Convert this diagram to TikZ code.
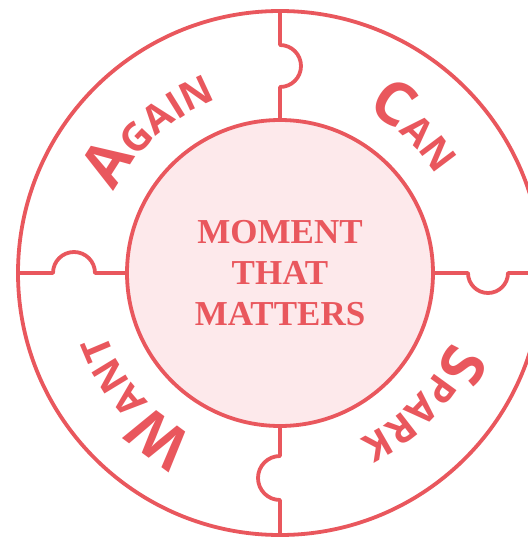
\documentclass[tikz,border=0pt]{standalone}
\usepackage{fontspec}
\setmainfont{Liberation Serif}
\newfontfamily\ringfont{Open Sans}
\usepackage{xcolor}
\usetikzlibrary{calc,decorations.text}
\definecolor{coral}{HTML}{E9575D}
\definecolor{blush}{HTML}{FDE9EB}
\newcommand{\ringbig}{\color{coral}\ringfont\bfseries\fontsize{60}{60}\selectfont}
\newcommand{\ringsmall}{\color{coral}\ringfont\bfseries\fontsize{39}{39}\selectfont}

\begin{document}
\begin{tikzpicture}[
    x=1pt, y=1pt,
    seam/.style={draw=coral, line width=3.8pt, line join=round},
    hub/.style={circle, draw=coral, fill=blush, line width=3.8pt, minimum size=306pt, outer sep=0pt, inner sep=0pt, align=center, text=coral, font=\bfseries\fontsize{35}{41}\selectfont},
    rim/.style={circle, draw=coral, line width=3.8pt, minimum size=524pt, outer sep=0pt},
    ringword/.style={decorate, decoration={text along path, text align=center}}
]
\fill[white] (-280,-269) rectangle (248,273);
\useasboundingbox (-280,-269) rectangle (248,273);

\node[rim] (ring) at (0,0) {};
\node[hub] (core) at (0,0) {MOMENT\\THAT\\MATTERS};

\draw[seam] (ring.north) -- (0,228) arc[start angle=90, end angle=-90, radius=21] -- (core.north);
\draw[seam] (core.south) -- (0,-183) arc[start angle=90, end angle=270, radius=22] -- (ring.south);
\draw[seam] (ring.west) -- (-227,0) arc[start angle=180, end angle=0, radius=21] -- (core.west);
\draw[seam] (core.east) -- (188,0) arc[start angle=180, end angle=360, radius=20] -- (ring.east);

\path[ringword, decoration={text={|\ringbig|A|\ringsmall|GAIN}}] (176:184) arc[start angle=176, end angle=88, radius=184];
\path[ringword, decoration={text={|\ringbig|C|\ringsmall|AN}}] (92:184) arc[start angle=92, end angle=2, radius=184];
\path[ringword, decoration={text={|\ringbig|S|\ringsmall|PARK}}] (1:184) arc[start angle=1, end angle=-87, radius=184];
\path[ringword, decoration={text={|\ringbig|W|\ringsmall|ANT}}] (-95:184) arc[start angle=-95, end angle=-183, radius=184];
\end{tikzpicture}
\end{document}
